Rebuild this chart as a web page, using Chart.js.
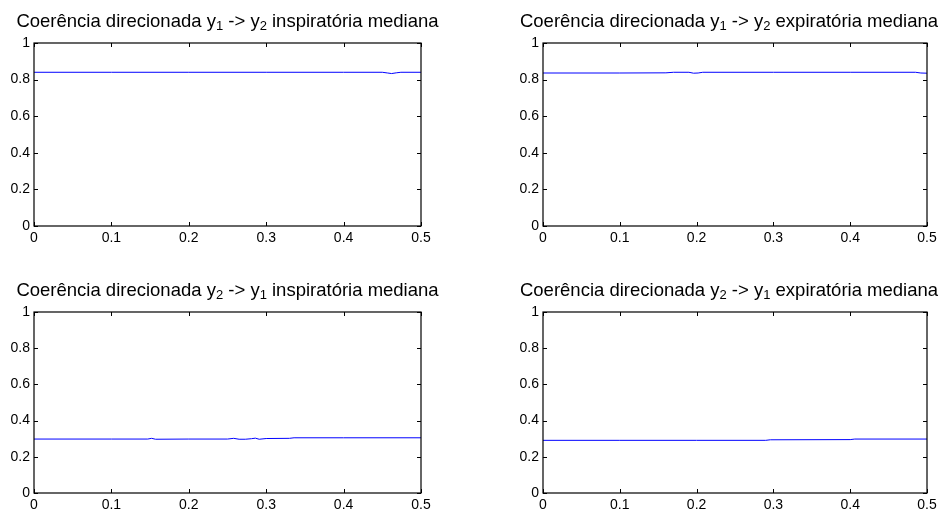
<!DOCTYPE html>
<html>
<head>
<meta charset="utf-8">
<script src="https://cdn.jsdelivr.net/npm/chart.js@4/dist/chart.umd.min.js"></script>
<style>
  html, body { margin: 0; padding: 0; background: #fff; }
  #wrap { position: relative; width: 949px; height: 514px; overflow: hidden; }
  .panel { position: absolute; }
</style>
</head>
<body>
<div id="wrap">
  <div class="panel" style="left:0;top:0;width:474px;height:257px"><canvas id="c12i"></canvas></div>
  <div class="panel" style="left:474px;top:0;width:475px;height:257px"><canvas id="c12e"></canvas></div>
  <div class="panel" style="left:0;top:257px;width:474px;height:257px"><canvas id="c21i"></canvas></div>
  <div class="panel" style="left:474px;top:257px;width:475px;height:257px"><canvas id="c21e"></canvas></div>
</div>
<script>
// directed coherence, median over subjects (frequency normalised 0..0.5)
const freq12i = [0, 0.1, 0.2, 0.3, 0.4, 0.45, 0.457, 0.462, 0.468, 0.474, 0.5];
const coh12i  = [0.840, 0.840, 0.840, 0.840, 0.840, 0.840, 0.836, 0.833, 0.837, 0.840, 0.840];

const freq12e = [0, 0.1, 0.16, 0.17, 0.19, 0.196, 0.202, 0.208, 0.3, 0.4, 0.485, 0.492, 0.5];
const coh12e  = [0.836, 0.836, 0.837, 0.840, 0.840, 0.835, 0.836, 0.840, 0.840, 0.840, 0.840, 0.836, 0.835];

const freq21i = [0, 0.1, 0.147, 0.152, 0.157, 0.2, 0.25, 0.258, 0.265, 0.273, 0.281, 0.286, 0.291, 0.3, 0.33, 0.336, 0.4, 0.5];
const coh21i  = [0.298, 0.298, 0.298, 0.302, 0.297, 0.298, 0.298, 0.302, 0.297, 0.297, 0.300, 0.303, 0.297, 0.301, 0.302, 0.305, 0.305, 0.305];

const freq21e = [0, 0.1, 0.2, 0.29, 0.296, 0.4, 0.406, 0.5];
const coh21e  = [0.291, 0.291, 0.291, 0.291, 0.294, 0.295, 0.298, 0.298];

// title pieces: odd entries are subscripts
const title12i = ["Coerência direcionada y", "1", " -> y", "2", " inspiratória mediana"];
const title12e = ["Coerência direcionada y", "1", " -> y", "2", " expiratória mediana"];
const title21i = ["Coerência direcionada y", "2", " -> y", "1", " inspiratória mediana"];
const title21e = ["Coerência direcionada y", "2", " -> y", "1", " expiratória mediana"];

const xTicks = [0, 0.1, 0.2, 0.3, 0.4, 0.5];
const yTicks = [0, 0.2, 0.4, 0.6, 0.8, 1];

const FONT = "'Liberation Sans', Arial, Helvetica, sans-serif";

// axes box with inward ticks on all four sides
const boxPlugin = {
  id: "axesBox",
  afterDraw(chart) {
    const { ctx, chartArea: a, scales } = chart;
    const len = 4;
    ctx.save();
    ctx.strokeStyle = "#000";
    ctx.lineWidth = 1.2;
    ctx.strokeRect(a.left, a.top, a.right - a.left, a.bottom - a.top);
    ctx.lineWidth = 1;
    ctx.beginPath();
    scales.x.ticks.forEach((t) => {
      const px = Math.round(scales.x.getPixelForValue(t.value)) + 0.5;
      ctx.moveTo(px, a.bottom); ctx.lineTo(px, a.bottom - len);
      ctx.moveTo(px, a.top); ctx.lineTo(px, a.top + len);
    });
    scales.y.ticks.forEach((t) => {
      const py = Math.round(scales.y.getPixelForValue(t.value)) + 0.5;
      ctx.moveTo(a.left, py); ctx.lineTo(a.left + len, py);
      ctx.moveTo(a.right, py); ctx.lineTo(a.right - len, py);
    });
    ctx.stroke();
    ctx.restore();
  },
};

// centred title with subscript digits
const titlePlugin = {
  id: "subTitle",
  afterDraw(chart, args, opts) {
    const { ctx, chartArea: a } = chart;
    const main = "18.5px " + FONT;
    const sub = "13px " + FONT;
    ctx.save();
    ctx.fillStyle = "#000";
    ctx.textBaseline = "alphabetic";
    let total = 0;
    opts.parts.forEach((p, i) => {
      ctx.font = i % 2 ? sub : main;
      total += ctx.measureText(p).width;
    });
    let x = (a.left + a.right) / 2 - total / 2 + (opts.shift || 0);
    const base = a.top - 16;
    opts.parts.forEach((p, i) => {
      ctx.font = i % 2 ? sub : main;
      ctx.fillText(p, x, i % 2 ? base + 3 : base);
      x += ctx.measureText(p).width;
    });
    ctx.restore();
  },
};

const fmt = (v) => String(Math.round(v * 10) / 10);

function makePanel(id, freqs, values, parts, pad, yWidth, xHeight, shift) {
  const pts = freqs.map((f, i) => ({ x: f, y: values[i] }));
  return new Chart(document.getElementById(id), {
    type: "line",
    data: {
      datasets: [{
        data: pts,
        borderColor: "#0000ff",
        borderWidth: 1,
        pointRadius: 0,
        tension: 0,
        fill: false,
      }],
    },
    options: {
      responsive: true,
      maintainAspectRatio: false,
      animation: false,
      events: [],
      layout: { padding: pad },
      plugins: {
        legend: { display: false },
        tooltip: { enabled: false },
        title: { display: false },
        subTitle: { parts, shift },
      },
      scales: {
        x: {
          type: "linear",
          min: 0,
          max: 0.5,
          grid: { display: false, drawTicks: false, tickLength: 0 },
          border: { display: false },
          afterBuildTicks: (s) => { s.ticks = xTicks.map((v) => ({ value: v })); },
          afterFit: (s) => { s.height = xHeight; },
          ticks: { color: "#000", padding: 4, maxRotation: 0, callback: fmt, font: { family: FONT, size: 14 } },
        },
        y: {
          min: 0,
          max: 1,
          grid: { display: false, drawTicks: false, tickLength: 0 },
          border: { display: false },
          afterBuildTicks: (s) => { s.ticks = yTicks.map((v) => ({ value: v })); },
          afterFit: (s) => { s.width = yWidth; },
          ticks: { color: "#000", padding: 4, callback: fmt, font: { family: FONT, size: 14 } },
        },
      },
    },
    plugins: [boxPlugin, titlePlugin],
  });
}

makePanel("c12i", freq12i, coh12i, title12i, { top: 43, right: 53, left: 0, bottom: 0 }, 34, 31, 0);
makePanel("c12e", freq12e, coh12e, title12e, { top: 43, right: 22, left: 0, bottom: 0 }, 69, 31, -6);
makePanel("c21i", freq21i, coh21i, title21i, { top: 55, right: 53, left: 0, bottom: 0 }, 34, 21, 0);
makePanel("c21e", freq21e, coh21e, title21e, { top: 55, right: 22, left: 0, bottom: 0 }, 69, 21, -6);
</script>
</body>
</html>
